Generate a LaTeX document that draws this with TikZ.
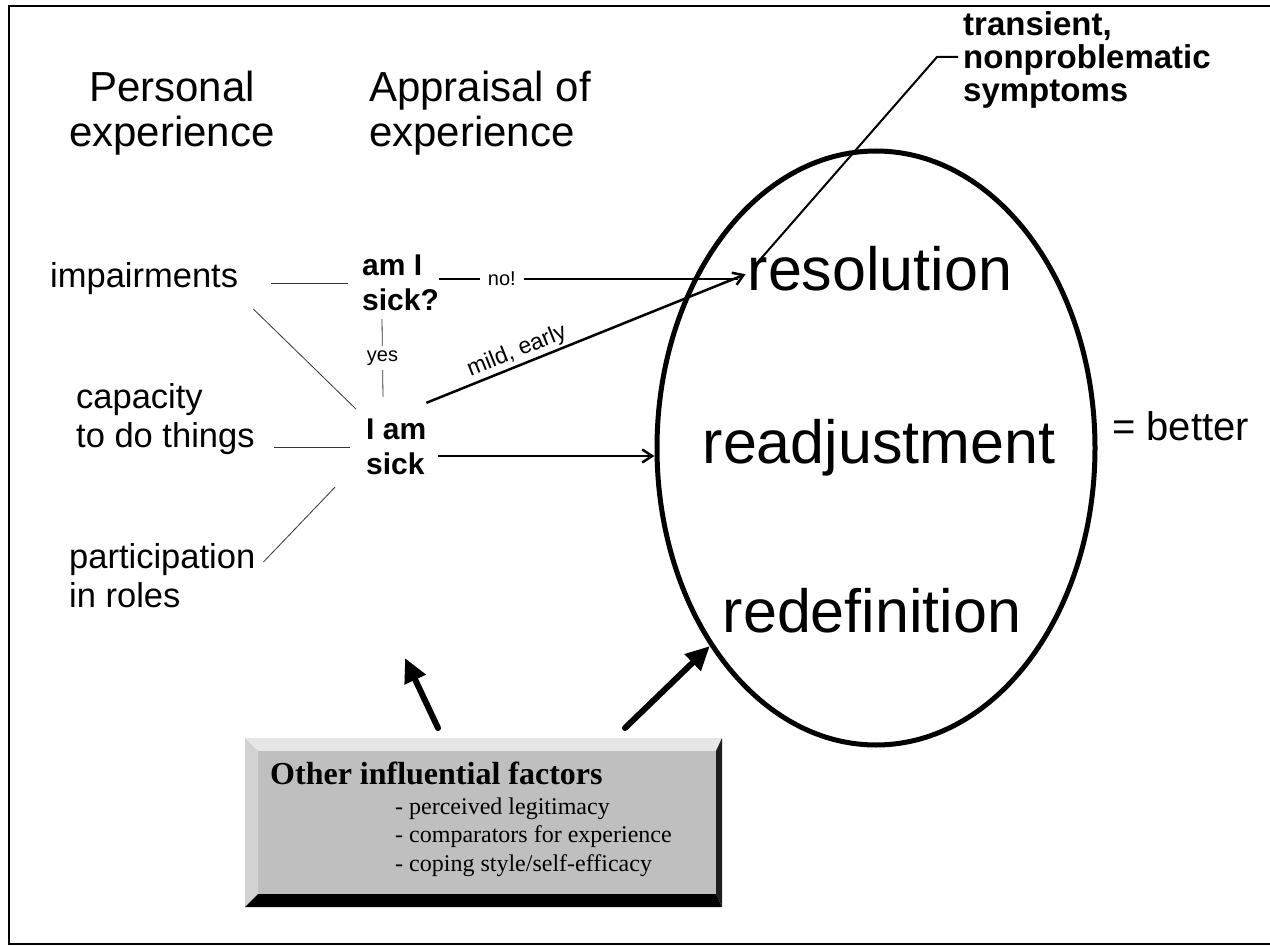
\documentclass[tikz,border=0pt]{standalone}
\usepackage{fontspec}
\setmainfont{Liberation Sans}
\newfontfamily\boxserif{Liberation Serif}
\usetikzlibrary{arrows.meta,shapes.geometric,calc}
\definecolor{bevlight}{HTML}{E6E6E6}
\definecolor{bevmid}{HTML}{D2D2D2}
\definecolor{bevdark}{HTML}{1E1E1E}
\definecolor{boxgray}{HTML}{BFBFBF}
\begin{document}
\begin{tikzpicture}[x=1pt,y=-1pt,
  lbl/.style={inner sep=0pt, align=left},
  hdr/.style={lbl, font=\fontsize{42}{45}\selectfont},
  expl/.style={lbl, font=\fontsize{34.5}{39}\selectfont},
  apprl/.style={lbl, font=\bfseries\fontsize{30}{35}\selectfont},
  big/.style={inner sep=0pt, font=\fontsize{61}{66}\selectfont},
  small/.style={inner sep=0pt, font=\fontsize{20}{22}\selectfont},
  thinline/.style={line width=0.8pt, draw=black!80},
  flow/.style={line width=2.5pt},
  flowarrow/.style={flow, -{Straight Barb[length=10pt,width=13pt]}},
  bigarrow/.style={line width=6pt, line cap=round, -{Triangle[length=24pt,width=22pt]}},
]
\useasboundingbox (0,0) rectangle (1270,947);
% frame
\draw[line width=2.5pt] (1270,6) -- (9,6) -- (9,944) -- (1270,944);

% headers
\node[hdr, align=center] (pers) at (172,113) {Personal\\experience};
\node[hdr, anchor=west] (apprh) at (369,113) {Appraisal of\\experience};

% personal experience items
\node[expl, anchor=base west] (imp) at (50,287) {impairments};
\node[expl, anchor=west] (cap) at (76,419) {capacity\\to do things};
\node[expl, anchor=west] (part) at (69,576) {participation\\in roles};

% appraisal
\node[apprl, anchor=west] (amI) at (362,283) {am I\\sick?};
\node[apprl, anchor=west] (Iam) at (366,447) {I am\\sick};

% outcome ellipse
\node[draw, ellipse, line width=5pt, minimum width=438pt, minimum height=594pt, inner sep=0pt] (oval) at (876,448) {};
\node[big, anchor=base] (res) at (880,290) {resolution};
\node[big, anchor=base] (readj) at (879,463) {readjustment};
\node[big, anchor=base] (redef) at (872,632) {redefinition};
\node[lbl, font=\fontsize{40}{42}\selectfont, anchor=base west] (better) at (1112,440) {= better};
\node[lbl, font=\bfseries\fontsize{33}{33}\selectfont, anchor=west] (trans) at (963,60) {transient,\\nonproblematic\\symptoms};

% thin lines
\draw[thinline, shorten <=33pt, shorten >=14pt] (imp.east |- amI.west) -- (amI.west);
\draw[thinline, shorten <=21pt, shorten >=14pt] (imp.south east) -- (Iam.north west);
\draw[thinline, shorten <=19pt, shorten >=16pt] (cap.east |- Iam.west) -- (Iam.west);
\draw[thinline] ($(part.east)+(8,-14)$) -- ($(Iam.south west)+(-31,12)$);
\draw[thinline] ($(amI.south west)+(20,8)$) -- node[small, fill=white, inner sep=5pt]{yes} ($(Iam.north west)+(17,-22)$);

% flow arrows
\coordinate (tipno) at ($(res.west)+(-10,11)$);
\coordinate (tipm) at ($(res.west)+(-2,6)$);
\coordinate (tipl) at ($(res.west)+(5,0)$);
\draw[flow] (amI.east |- tipno) -- node[pos=0.21, small, fill=white, inner xsep=8pt, inner ysep=2pt]{no!} (tipno);
\draw[flowarrow] ($(Iam.north east)+(0,-16)$) -- node[pos=0.3, sloped, above, inner sep=2pt, font=\fontsize{23}{24}\selectfont]{mild, early} (tipm);
\coordinate (iamout) at ($(Iam.east)+(12,9)$);
\draw[flowarrow] (iamout) -- (oval.west |- iamout);
\draw[line width=2pt] ($(trans.west)+(-5,-3)$) -- ++(-21,0) -- (tipl);

% factors box
\fill[bevlight] (245,738) -- (722,738) -- (716,751) -- (258,751) -- cycle;
\fill[bevmid] (245,738) -- (258,751) -- (258,894) -- (245,907) -- cycle;
\fill[black] (245,907) -- (258,894) -- (716,894) -- (722,907) -- cycle;
\fill[bevdark] (722,738) -- (716,751) -- (716,894) -- (722,907) -- cycle;
\node[fill=boxgray, minimum width=458pt, minimum height=143pt, inner sep=0pt, anchor=north west] (factors) at (258,751) {};
\node[anchor=base west, inner sep=0pt, font=\boxserif\bfseries\fontsize{32}{34}\selectfont] (ftitle) at (270,784) {Other influential factors};
\node[anchor=west, inner sep=0pt, align=left, font=\boxserif\fontsize{24}{28.5}\selectfont] (fitems) at (395,837) {- perceived legitimacy\\- comparators for experience\\- coping style/self-efficacy};

% big arrows
\coordinate (apprpt) at (405,658);
\draw[bigarrow] ($(factors.north west)+(180,-23)$) -- (apprpt);
\draw[bigarrow] ($(factors.north west)+(367,-23)$) -- (oval.230);
\end{tikzpicture}
\end{document}
